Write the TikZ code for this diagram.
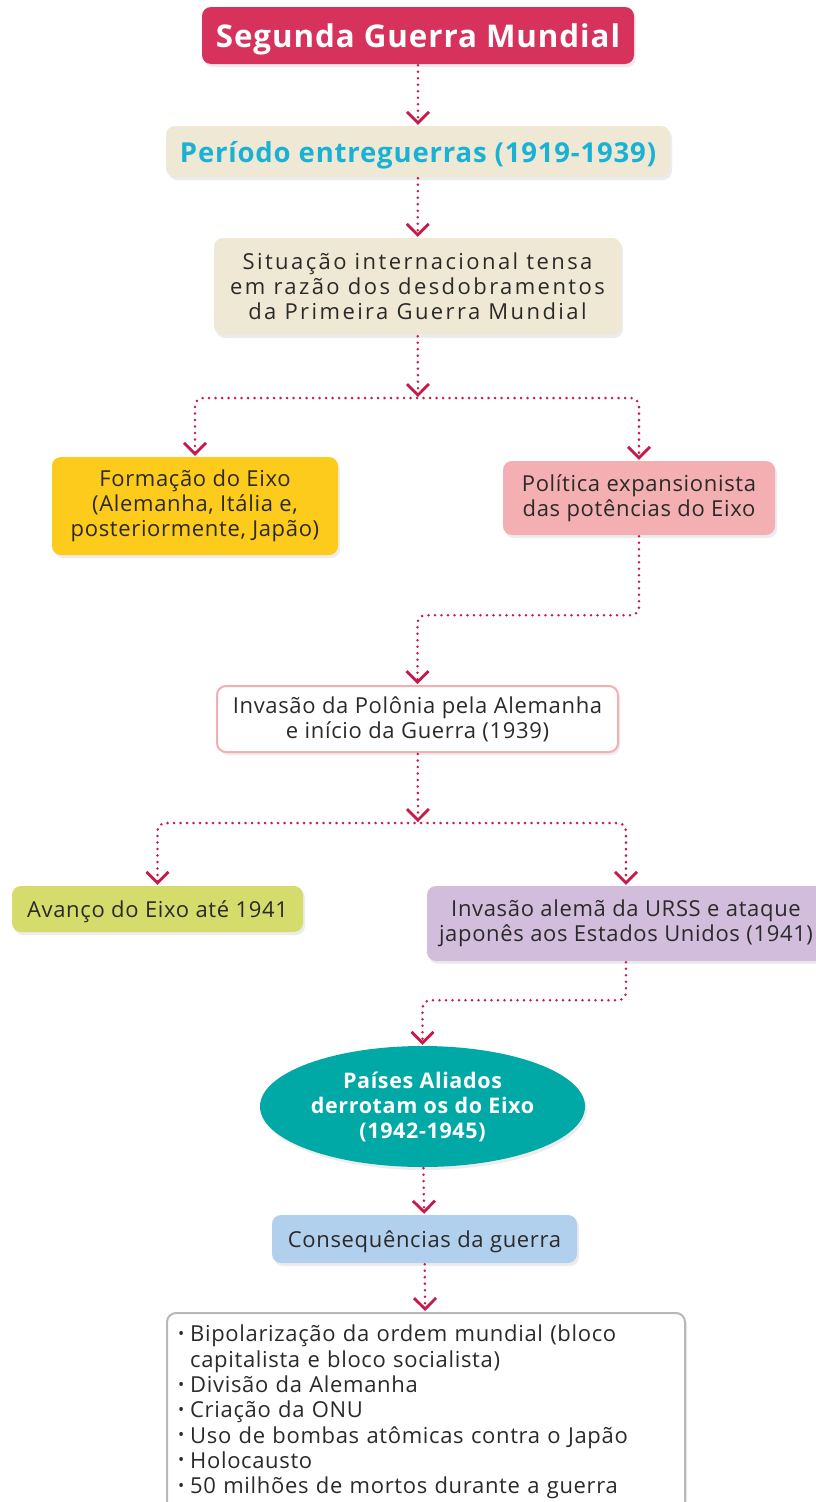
\documentclass[tikz,border=0pt]{standalone}
\usepackage{fontspec}
\setmainfont{Open Sans}[LetterSpace=3]
\newfontfamily\widefont{Open Sans}[LetterSpace=11]
\usetikzlibrary{arrows.meta,shapes.geometric,shadows}
\definecolor{crimson}{HTML}{D6325C}
\definecolor{linered}{HTML}{C8194B}
\definecolor{darktext}{HTML}{2B2A29}
\definecolor{cyantext}{HTML}{19B2D4}
\definecolor{beige}{HTML}{EEE8D5}
\definecolor{axisyellow}{HTML}{FDCB1B}
\definecolor{salmon}{HTML}{F4AFB2}
\definecolor{lime}{HTML}{D5DC6B}
\definecolor{lavender}{HTML}{D3BDDC}
\definecolor{teal}{HTML}{00A9A6}
\definecolor{skyblue}{HTML}{B1D0EE}
\definecolor{frame}{HTML}{B8B8B8}
\tikzset{chev/.tip={Straight Barb[length=11pt,width=22pt,line width=2.8pt]}}
\newcommand{\dotitem}{\raisebox{0.2ex}{\scalebox{0.75}{•}}\hspace{6pt}}

\begin{document}
\begin{tikzpicture}[x=1pt,y=-1pt]
\tikzstyle{box}=[rounded corners=9pt, inner sep=0pt, align=center, text=darktext,
  font=\fontsize{22}{25}\selectfont,
  drop shadow={opacity=0.15, shadow xshift=2pt, shadow yshift=-3pt}]
\tikzstyle{oneline}=[text depth=0pt]
\tikzstyle{flow}=[draw=linered, line width=2.8pt, line cap=round,
  dash pattern=on 0pt off 6.5pt, rounded corners=8pt, shorten >=1pt, shorten <=1pt]

\path[use as bounding box, fill=white] (0,0) rectangle (816,1502);

\node[box, oneline, fill=crimson, text=white, minimum width=432pt, minimum height=57pt,
  font=\fontsize{31.3}{38}\selectfont\bfseries] (guerra) at (418,35.5) {Segunda Guerra Mundial};
\node[box, oneline, fill=beige, text=cyantext, minimum width=504pt, minimum height=51pt,
  font=\fontsize{27.5}{32}\selectfont\bfseries] (entreguerras) at (418,151.5) {Período entreguerras (1919-1939)};
\node[box, fill=beige, minimum width=407pt, minimum height=97pt, font=\fontsize{22}{25}\widefont] (situacao) at (417.5,286.5)
  {Situação internacional tensa\\em razão dos desdobramentos\\da Primeira Guerra Mundial};
\node[box, fill=axisyellow, minimum width=286pt, minimum height=98pt] (formacao) at (195,506)
  {Formação do Eixo\\(Alemanha, Itália e,\\posteriormente, Japão)};
\node[box, fill=salmon, minimum width=272pt, minimum height=74pt] (politica) at (639,498)
  {Política expansionista\\das potências do Eixo};
\node[box, fill=white, draw=salmon, line width=2pt, minimum width=401pt, minimum height=66pt] (polonia) at (417.5,719)
  {Invasão da Polônia pela Alemanha\\e início da Guerra (1939)};
\node[box, oneline, fill=lime, minimum width=291pt, minimum height=46pt] (avanco) at (157.5,909)
  {Avanço do Eixo até 1941};
\node[box, fill=lavender, minimum width=398pt, minimum height=75pt] (invasao) at (626,923.5)
  {Invasão alemã da URSS e ataque\\japonês aos Estados Unidos (1941)};
\node[box, ellipse, fill=teal, text=white, minimum width=325pt, minimum height=121pt,
  font=\fontsize{21.5}{25}\selectfont\bfseries] (aliados) at (422.5,1106.5)
  {Países Aliados\\derrotam os do Eixo\\(1942-1945)};
\node[box, oneline, fill=skyblue, minimum width=305pt, minimum height=48pt] (consequencias) at (424.5,1239)
  {Consequências da guerra};
\node[box, drop shadow={opacity=0}, fill=white, draw=frame, line width=2pt, minimum width=518pt, minimum height=198pt,
  text width=496pt, align=left, font=\fontsize{22}{25.3}\selectfont] (lista) at (426,1412)
  {\dotitem Bipolarização da ordem mundial (bloco\\\hphantom{\dotitem}capitalista e bloco socialista)\\
   \dotitem Divisão da Alemanha\\\dotitem Criação da ONU\\\dotitem Uso de bombas atômicas contra o Japão\\
   \dotitem Holocausto\\\dotitem 50 milhões de mortos durante a guerra};

\coordinate (ramo1) at (418,398);
\coordinate (ramo2) at (418,823);

\draw[flow, -chev] (guerra) -- (entreguerras);
\draw[flow, -chev] (entreguerras) -- (situacao);
\draw[flow, -chev] (situacao) -- (ramo1);
\draw[flow, chev-chev] (formacao.north) |- (ramo1) -| (politica.north);
\draw[flow, -chev] (politica.south) -- ++(0,80) -| (polonia.north);
\draw[flow, -chev] (polonia) -- (ramo2);
\draw[flow, chev-chev] (avanco.north) |- (ramo2) -| (invasao.north);
\draw[flow, -chev] (invasao.south) -- ++(0,39) -| (aliados.north);
\draw[flow, -chev] (aliados) -- (consequencias);
\draw[flow, -chev] (consequencias) -- (lista);

\end{tikzpicture}
\end{document}
